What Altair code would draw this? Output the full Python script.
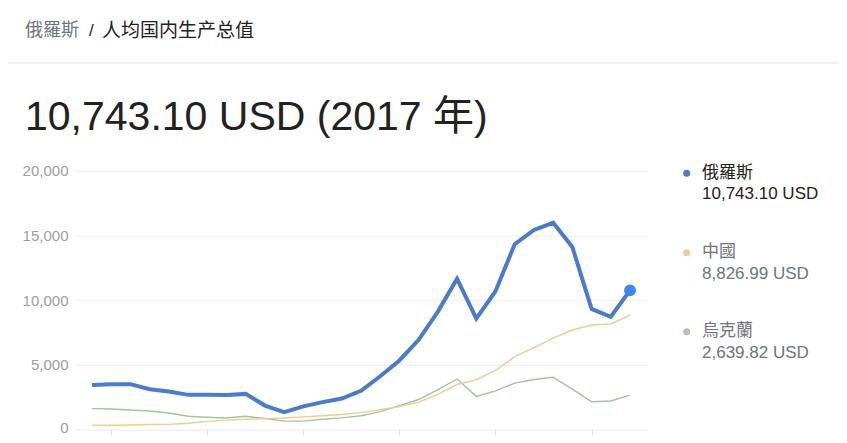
import altair as alt
import pandas as pd

years = list(range(1989, 2018))
russia = [3428, 3485, 3490, 3098, 2929, 2663, 2666, 2644, 2738, 1835, 1331, 1772, 2100, 2377,
          2975, 4102, 5323, 6920, 9101, 11635, 8563, 10675, 14311, 15420, 15974, 14096, 9313,
          8705, 10743.10]
china = [311, 318, 333, 366, 377, 473, 610, 709, 782, 829, 873, 959, 1053, 1149, 1289, 1509,
         1753, 2099, 2694, 3468, 3832, 4550, 5618, 6317, 7051, 7679, 8067, 8148, 8826.99]
ukraine = [1600, 1570, 1490, 1418, 1258, 1012, 936, 873, 1007, 835, 636, 636, 781, 880, 1049,
           1367, 1829, 2303, 3069, 3891, 2545, 2974, 3570, 3856, 4030, 3105, 2125, 2188, 2639.82]

series_names = ["俄羅斯", "中國", "烏克蘭"]
series_values = ["10,743.10 USD", "8,826.99 USD", "2,639.82 USD"]
header_country = "俄羅斯"
header_metric = "人均国内生产总值"
headline = "10,743.10 USD (2017 年)"
y_ticks = [0, 5000, 10000, 15000, 20000]
x_ticks = [1990, 1995, 2000, 2005, 2010, 2015]

df_r = pd.DataFrame({"year": years, "value": russia})
df_other = pd.concat([
    pd.DataFrame({"year": years, "value": ukraine, "country": series_names[2]}),
    pd.DataFrame({"year": years, "value": china, "country": series_names[1]}),
])
df_last = df_r.tail(1)

LATIN = "Liberation Sans, Arial, Noto Sans CJK SC, sans-serif"
CJK = "Noto Sans CJK SC, Liberation Sans, sans-serif"

x_enc = alt.X("year:Q", scale=alt.Scale(domain=[1988.115, 2017.885], nice=False, zero=False),
              axis=alt.Axis(values=x_ticks, labels=False, grid=False, domain=False,
                            ticks=True, tickSize=14, tickColor="#e3e3e3", title=None))
y_enc = alt.Y("value:Q", scale=alt.Scale(domain=[0, 20000], nice=False),
              axis=alt.Axis(values=y_ticks, format=",.0f", grid=True, gridColor="#ebebeb",
                            domain=False, ticks=False, labelPadding=7, labelColor="#9e9e9e",
                            labelFontSize=15, labelFont=LATIN, title=None,
                            labelOffset=alt.condition("datum.value === 0", alt.value(-2),
                                                      alt.value(0))))

others = alt.Chart(df_other).mark_line(strokeWidth=1.4).encode(
    x=x_enc, y=y_enc,
    color=alt.Color("country:N", scale=alt.Scale(domain=[series_names[1], series_names[2]],
                                                  range=["#efca93", "#a2c59c"]), legend=None),
    detail="country:N",
)
rus = alt.Chart(df_r).mark_line(strokeWidth=4, color="#4a7cc8").encode(x=x_enc, y=y_enc)
dot = alt.Chart(df_last).mark_circle(size=140, color="#4285f4", opacity=1).encode(x=x_enc, y=y_enc)

one = pd.DataFrame({"k": [0]})


def txt(s, x, y, size, color, font=LATIN, baseline="alphabetic"):
    return alt.Chart(one).mark_text(align="left", baseline=baseline, fontSize=size, color=color,
                                    font=font).encode(x=alt.value(x), y=alt.value(y),
                                                      text=alt.value(s))


def ldot(x, y, color):
    return alt.Chart(one).mark_circle(size=50, color=color, opacity=1).encode(
        x=alt.value(x), y=alt.value(y))


divider = alt.Chart(one).mark_rule(color="#e3e3e3", strokeWidth=1).encode(
    x=alt.value(-67), x2=alt.value(764), y=alt.value(-107.7))

# positions relative to plot origin (page x 75, y 170.7)
layers = [
    others, rus, dot, divider,
    txt(header_country, -50, -139.7, 18, "#70757a", CJK, "middle"),
    txt("/", 14, -139.7, 17, "#222222", LATIN, "middle"),
    txt(header_metric, 27, -139.7, 19, "#222222", CJK, "middle"),
    txt(headline, -50, -40.7, 41, "#222222", LATIN),
    ldot(611.7, 2.6, "#4a7cc8"),
    ldot(611.7, 82, "#f2c79e"),
    ldot(611.7, 161, "#a9caa4"),
    txt(series_names[0], 627, 2.3, 17, "#222222", CJK, "middle"),
    txt(series_values[0], 627, 23.6, 17, "#222222", LATIN, "middle"),
    txt(series_names[1], 627, 81.3, 17, "#70757a", CJK, "middle"),
    txt(series_values[1], 627, 103.6, 17, "#70757a", LATIN, "middle"),
    txt(series_names[2], 627, 160.3, 17, "#70757a", CJK, "middle"),
    txt(series_values[2], 627, 182.3, 17, "#70757a", LATIN, "middle"),
]

chart = alt.layer(*layers).properties(
    width=572, height=258.6,
    autosize=alt.AutoSizeParams(type="none"),
    padding={"left": 67, "top": 162.7, "right": 192, "bottom": 5.7},
    background="white",
).configure_view(strokeWidth=0)

chart.save("out.html", embed_options={"renderer": "svg", "actions": False})
